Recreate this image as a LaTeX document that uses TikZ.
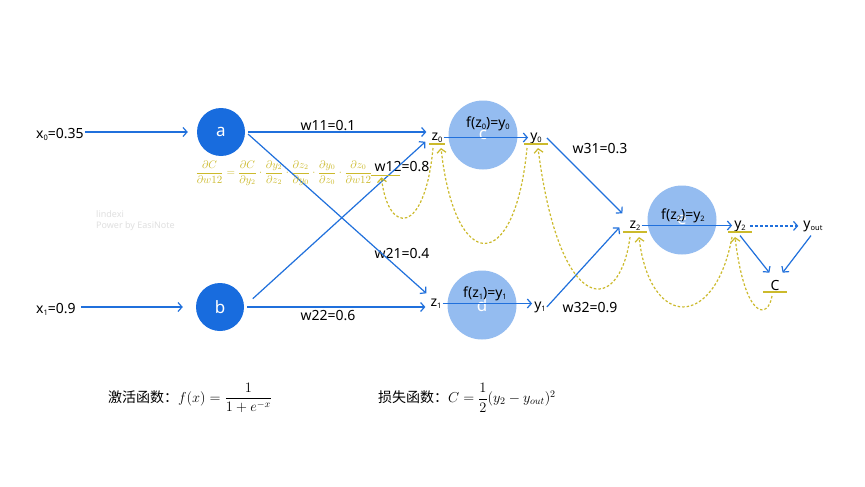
\documentclass[tikz,border=0pt]{standalone}
\usepackage{amsmath}
\usepackage[no-math]{fontspec}
\setmainfont{Noto Sans}
\newfontfamily\cjkFont{Noto Sans CJK SC}
\usetikzlibrary{positioning,arrows.meta}
\definecolor{nodeBlue}{RGB}{24,108,222}
\definecolor{cellBlue}{RGB}{148,188,240}
\definecolor{lineBlue}{RGB}{32,112,220}
\definecolor{gradYellow}{RGB}{204,186,44}
\definecolor{markGray}{RGB}{224,224,224}
\tikzstyle{inputNode} = [circle, fill=nodeBlue, minimum size=48pt, inner sep=0pt, text=white, font=\fontsize{17}{17}\selectfont]
\tikzstyle{cellNode} = [circle, fill=cellBlue, minimum size=69pt, inner sep=0pt, text=white, font=\fontsize{17}{17}\selectfont]
\tikzstyle{labelText} = [inner sep=1pt, font=\fontsize{14}{14}\selectfont]
\tikzstyle{gradText} = [inner sep=0pt, text=gradYellow, font=\fontsize{10.5}{10.5}\selectfont]
\tikzstyle{formulaText} = [inner sep=0pt, font=\fontsize{14}{14}\selectfont]
\tikzstyle{markText} = [inner sep=0pt, anchor=west, text=markGray, font=\fontsize{9}{11}\selectfont]
\tikzstyle{forward} = [color=lineBlue, line width=1.2pt, -{Straight Barb[length=4pt,width=9pt]}]
\tikzstyle{forwardMaybe} = [forward, dash pattern=on 3pt off 2pt]
\tikzstyle{backward} = [color=gradYellow, line width=1.2pt, dash pattern=on 2.5pt off 2pt, -{Straight Barb[length=4pt,width=9pt]}]
\tikzstyle{barLine} = [color=gradYellow, line width=1.5pt]
\newcommand{\idx}[1]{\raisebox{-2.5pt}{\fontsize{7.5}{7.5}\selectfont #1}}
\newcommand{\underBar}[3]{\draw [barLine] ([xshift=-#2, yshift=-#3]#1.base) -- ([xshift=#2, yshift=-#3]#1.base);}

\begin{document}
\begin{tikzpicture}[x=1pt, y=-1pt]
  \fill [white] (0,0) rectangle (865,487);
  % input layer
  \node [inputNode] (inA) at (221,132) {a};
  \node [inputNode] (inB) at (220,307) {b};
  \node [labelText, anchor=base west] (x0Label) at (35,138) {x\idx{0}=0.35};
  \node [labelText, anchor=base west] (x1Label) at (35,313) {x\idx{1}=0.9};

  % hidden and output cells
  \node [cellNode] (cellC) at (483,135) {c};
  \node [cellNode] (cellD) at (482,305) {d};
  \node [cellNode] (cellE) at (682,220) {e};

  % values
  \node [labelText, anchor=base] (z0) at (437,140) {z\idx{0}};
  \node [labelText, anchor=base] (y0) at (536,140) {y\idx{0}};
  \node [labelText, anchor=base] (z1) at (436,306) {z\idx{1}};
  \node [labelText, anchor=base] (y1) at (540,309) {y\idx{1}};
  \node [labelText, anchor=base] (z2) at (635,228) {z\idx{2}};
  \node [labelText, anchor=base] (y2) at (740,228) {y\idx{2}};
  \node [labelText, anchor=base] (yOut) at (813,228) {y\idx{out}};
  \node [labelText, anchor=base] (costC) at (775,290) {C};
  \node [labelText, anchor=base] (fC) at (488,127) {f(z\idx{0})=y\idx{0}};
  \node [labelText, anchor=base] (fD) at (485,297) {f(z\idx{1})=y\idx{1}};
  \node [labelText, anchor=base] (fE) at (683,219) {f(z\idx{2})=y\idx{2}};

  % weights
  \node [labelText] (w11) at (328,126) {w11=0.1};
  \node [labelText] (w12) at (402,167) {w12=0.8};
  \node [labelText] (w21) at (402,254) {w21=0.4};
  \node [labelText] (w22) at (328,316) {w22=0.6};
  \node [labelText] (w31) at (600,149) {w31=0.3};
  \node [labelText] (w32) at (590,308) {w32=0.9};

  % forward pass
  \draw [forward] (x0Label.east |- inA) -- ([xshift=-9pt]inA.west);
  \draw [forward] ([xshift=4pt]x1Label.east |- inB) -- ([xshift=-13pt]inB.west);
  \draw [forward] ([xshift=3pt]inA.east) -- ([xshift=-4pt]inA.east -| z0.west);
  \draw [forward] ([xshift=3pt]inA.-5) -- ([xshift=-3pt, yshift=4pt]z1.north west);
  \draw [forward] ([xshift=10pt]inB.20) -- ([xshift=-5pt, yshift=2pt]z0.south west);
  \draw [forward] ([xshift=3pt]inB.east) -- ([xshift=-4pt]inB.east -| z1.west);
  \draw [forward] (z0.east) -- ([xshift=-1pt]z0.east -| y0.west);
  \draw [forward] (z1.east) -- ([xshift=-1pt]z1.east -| y1.west);
  \draw [forward] ([xshift=4pt]y0.east) -- ([xshift=-6pt, yshift=6pt]z2.north west);
  \draw [forward] (y1.east) -- ([xshift=-9pt, yshift=-2pt]z2.west);
  \draw [forward] (z2.east) -- ([xshift=-1pt]z2.east -| y2.west);
  \draw [forwardMaybe] ([xshift=3pt]y2.east) -- ([xshift=-4pt]y2.east -| yOut.west);
  \draw [forward] ([yshift=-3pt]y2.south) -- ([yshift=6pt]costC.north west);
  \draw [forward] ([xshift=-2pt, yshift=-3pt]yOut.south) -- ([xshift=2pt, yshift=6pt]costC.north east);

  % underlines
  \underBar{z0}{8pt}{4pt}
  \underBar{y0}{12pt}{4pt}
  \underBar{z2}{12pt}{4pt}
  \underBar{y2}{12pt}{4pt}
  \underBar{costC}{12pt}{2pt}
  \draw [barLine] ([xshift=-2pt, yshift=-2pt]w12.south west) -- +(29,0);

  % backward pass
  \draw [backward] ([xshift=-3pt, yshift=-6pt]costC.base) .. controls +(-4,24) and +(10,83) .. ([xshift=-5pt, yshift=-9pt]y2.base);
  \draw [backward] ([xshift=-8pt, yshift=-9pt]y2.base) .. controls +(-17,93) and +(11,93) .. ([xshift=4pt, yshift=-9pt]z2.base);
  \draw [backward] ([xshift=-5pt, yshift=-9pt]z2.base) .. controls +(-10,78) and +(22,172) .. ([xshift=2pt, yshift=-8pt]y0.base);
  \draw [backward] ([xshift=-9pt, yshift=-8pt]y0.base) .. controls +(-12,127) and +(14,127) .. ([xshift=4pt, yshift=-8pt]z0.base);
  \draw [backward] ([xshift=-4pt, yshift=-8pt]z0.base) .. controls +(-8,87) and +(7,59) .. ([xshift=8pt, yshift=-4pt]w12.south west);

  \node [gradText] (chainRule) at (284,173) {$\dfrac{\partial C}{\partial w12}=\dfrac{\partial C}{\partial y_2}\cdot\dfrac{\partial y_2}{\partial z_2}\cdot\dfrac{\partial z_2}{\partial y_0}\cdot\dfrac{\partial y_0}{\partial z_0}\cdot\dfrac{\partial z_0}{\partial w12}$};

  % watermark
  \node [markText] (markName) at (96,214) {lindexi};
  \node [markText] (markTool) at (96,226) {Power by EasiNote};

  % formulas
  \node [formulaText, anchor=west] (activation) at (108,398) {{\cjkFont 激活函数：}$f(x)=\dfrac{1}{1+e^{-x}}$};
  \node [formulaText, anchor=west] (loss) at (378,398) {{\cjkFont 损失函数：}$C=\dfrac{1}{2}(y_2-y_{out})^2$};
\end{tikzpicture}
\end{document}
